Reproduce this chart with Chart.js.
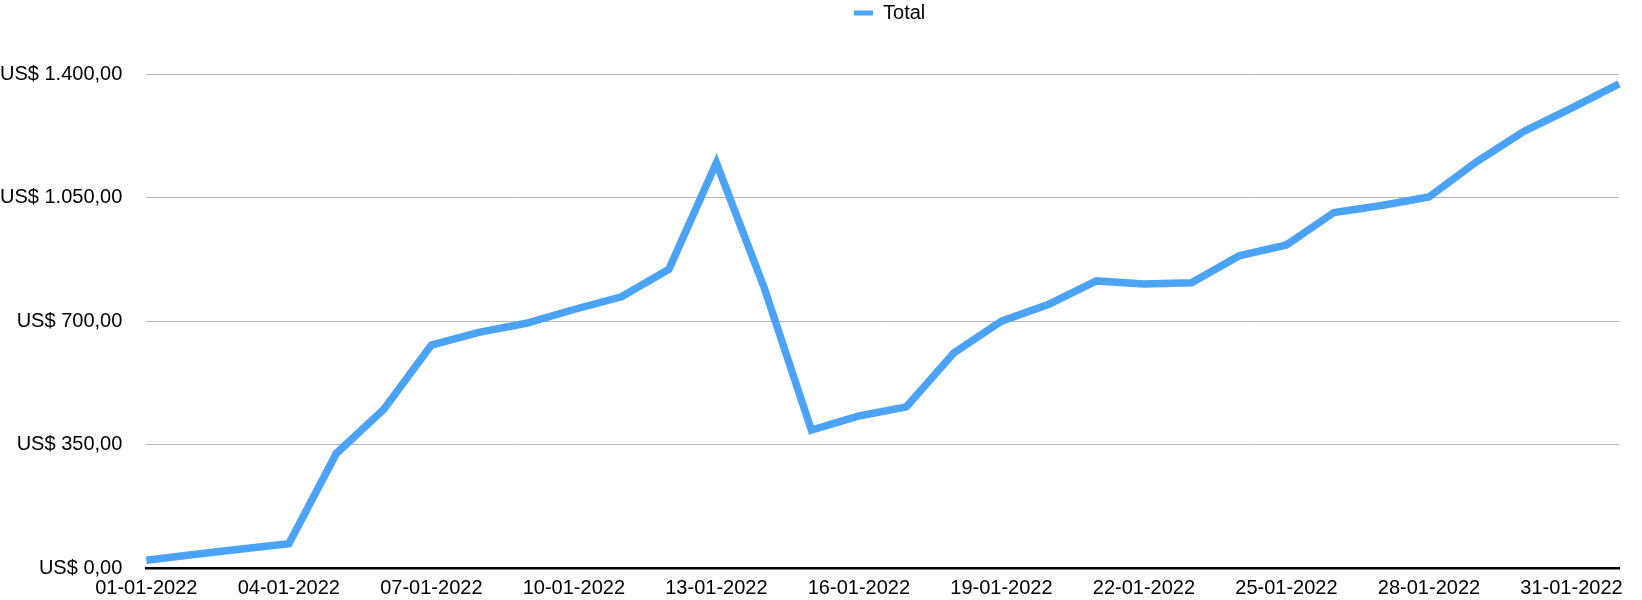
<!DOCTYPE html>
<html lang="pt">
  <head>
    <meta charset="UTF-8" />
    <title>Total</title>
    <script src="https://cdn.jsdelivr.net/npm/chart.js"></script>
    <style>
      body { margin: 0; background: #fff; }
      #wrap { width: 1642px; height: 600px; }
    </style>
  </head>
  <body>
    <div id="wrap"><canvas id="myChart"></canvas></div>
    <script>
// data
const days = [
  '01-01-2022', '02-01-2022', '03-01-2022', '04-01-2022', '05-01-2022', '06-01-2022',
  '07-01-2022', '08-01-2022', '09-01-2022', '10-01-2022', '11-01-2022', '12-01-2022',
  '13-01-2022', '14-01-2022', '15-01-2022', '16-01-2022', '17-01-2022', '18-01-2022',
  '19-01-2022', '20-01-2022', '21-01-2022', '22-01-2022', '23-01-2022', '24-01-2022',
  '25-01-2022', '26-01-2022', '27-01-2022', '28-01-2022', '29-01-2022', '30-01-2022',
  '31-01-2022', '01-02-2022'
];
const total = [
  22, 38, 54, 69, 325, 450, 632, 668, 694, 733, 769, 847,
  1149, 797, 391, 431, 457, 610, 700, 748, 814, 805, 809, 885,
  916, 1008, 1028, 1052, 1152, 1238, 1304, 1373
];
const yTicks = [0, 350, 700, 1050, 1400];
const seriesName = 'Total';

const lineColor = '#4ba3f7';

function money(v) {
  let parts = v.toFixed(2).split('.');
  let intPart = parts[0].replace(/\B(?=(\d{3})+(?!\d))/g, '.');
  return 'US$ ' + intPart + ',' + parts[1];
}

// push the plot area down a little under the legend, and nudge the item right
const legendGap = {
  id: 'legendGap',
  beforeInit(chart) {
    const fit = chart.legend.fit;
    chart.legend.fit = function () {
      fit.bind(chart.legend)();
      this.height += 6;
      if (this.lineWidths) this.lineWidths[0] -= 14;
    };
  }
};

Chart.defaults.font.family = "'Liberation Sans', Arial, sans-serif";
Chart.defaults.font.size = 20;
Chart.defaults.color = '#000';

function createChart() {
  const ctx = document.getElementById('myChart');

  new Chart(ctx, {
    type: 'line',
    data: {
      labels: days,
      datasets: [{
        label: seriesName,
        data: total,
        borderColor: lineColor,
        backgroundColor: lineColor,
        borderWidth: 7.5,
        pointRadius: 0,
        pointHoverRadius: 0,
        tension: 0,
        fill: false
      }]
    },
    options: {
      responsive: true,
      maintainAspectRatio: false,
      animation: false,
      layout: { padding: { left: 0, right: 23, top: 0, bottom: 0 } },
      plugins: {
        tooltip: { enabled: false },
        legend: {
          position: 'top',
          fullSize: false,
          labels: {
            boxWidth: 19,
            boxHeight: 5,
            padding: 3,
            generateLabels: function (chart) {
              const items = Chart.defaults.plugins.legend.labels.generateLabels(chart);
              items.forEach(item => { item.lineWidth = 0; item.fillStyle = lineColor; });
              return items;
            }
          }
        }
      },
      scales: {
        x: {
          grid: { display: false, drawTicks: false },
          border: { display: true, color: '#000', width: 2.5 },
          ticks: {
            autoSkip: false,
            maxRotation: 0,
            padding: 8,
            callback: function (value, index) {
              return index % 3 === 0 ? days[index] : '';
            }
          },
          // chart.js counts the tick padding twice, take one off
          afterFit: function (scale) {
            scale.height -= scale.options.ticks.padding;
          }
        },
        y: {
          min: 0,
          max: 1500,
          grid: { color: '#b4b4b4', lineWidth: 1, drawTicks: false },
          border: { display: false },
          afterBuildTicks: function (scale) {
            scale.ticks = yTicks.map(v => ({ value: v }));
          },
          ticks: {
            padding: 24,
            callback: function (value) {
              return money(value);
            }
          },
          // same double padding on the width; and the big tick padding
          // should not reserve extra room above and below the plot
          afterFit: function (scale) {
            scale.width -= scale.options.ticks.padding;
            scale.paddingTop = 0;
            scale.paddingBottom = 0;
          }
        }
      }
    },
    plugins: [legendGap]
  });
}

createChart();
    </script>
  </body>
</html>
